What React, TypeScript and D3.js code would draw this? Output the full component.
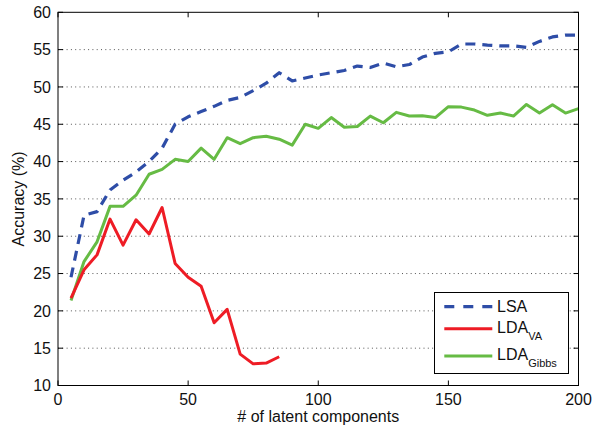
import React from "react";
import * as d3 from "d3";

const xs = d3.range(5, 201, 5);
const lsa = [24.5, 32.8, 33.3, 36.2, 37.5, 38.6, 40.0, 41.8, 45.0, 46.0, 46.7, 47.4, 48.2, 48.6, 49.5, 50.5, 51.9, 50.8, 51.2, 51.6,
  51.9, 52.2, 52.8, 52.6, 53.2, 52.7, 53.0, 54.0, 54.5, 54.7, 55.75, 55.75, 55.6, 55.5, 55.5, 55.3, 56.1, 56.7, 56.95, 56.95];
const ldaVA = [21.7, 25.5, 27.5, 32.3, 28.8, 32.2, 30.3, 33.85, 26.35, 24.5, 23.3, 18.4, 20.2, 14.2, 12.9, 13.0, 13.85];
const ldaGibbs = [21.4, 26.6, 29.25, 34.0, 34.0, 35.5, 38.3, 38.95, 40.3, 40.0, 41.8, 40.3, 43.2, 42.4, 43.2, 43.4, 43.0, 42.2, 45.0, 44.45,
  45.9, 44.6, 44.7, 46.1, 45.2, 46.6, 46.1, 46.15, 45.9, 47.35, 47.3, 46.9, 46.2, 46.5, 46.1, 47.65, 46.5, 47.6, 46.5, 47.1];
const xTicks = [0, 50, 100, 150, 200];
const yTicks = [10, 15, 20, 25, 30, 35, 40, 45, 50, 55, 60];

const W = 592, H = 430;
const L = 58, R = 578.5, T = 12.3, B = 385.5;
const FONT = "'Liberation Sans', Arial, Helvetica, sans-serif";

export default function App() {
  const x = d3.scaleLinear().domain([0, 200]).range([L, R]);
  const y = d3.scaleLinear().domain([10, 60]).range([B, T]);
  const line = d3.line<number>().x((_, i) => x(xs[i])).y((d) => y(d));
  const tick = 5;
  return (
    <svg width={W} height={H} style={{ position: "absolute", left: 0, top: 0, background: "#fff" }} fontFamily={FONT}>
      <rect x={0} y={0} width={W} height={H} fill="#fff" />
      {/* grid */}
      {yTicks.slice(1, -1).map((t) => (
        <line key={"g" + t} x1={L} x2={R} y1={y(t)} y2={y(t)} stroke="#555" strokeWidth={1} strokeDasharray="1 3.3" />
      ))}
      {/* lines */}
      <path d={line(ldaGibbs) || ""} fill="none" stroke="#66BB44" strokeWidth={3} strokeLinejoin="round" />
      <path d={line(ldaVA) || ""} fill="none" stroke="#EE1C25" strokeWidth={3} strokeLinejoin="round" />
      <path d={line(lsa) || ""} fill="none" stroke="#2E4DA7" strokeWidth={3.2} strokeDasharray="10 7" strokeLinejoin="round" />
      {/* frame */}
      <rect x={L} y={T} width={R - L} height={B - T} fill="none" stroke="#000" strokeWidth={1} />
      {/* ticks */}
      {xTicks.map((t) => (
        <g key={"xt" + t}>
          <line x1={x(t)} x2={x(t)} y1={B} y2={B - tick} stroke="#000" />
          <line x1={x(t)} x2={x(t)} y1={T} y2={T + tick} stroke="#000" />
          <text x={x(t)} y={405} textAnchor="middle" fontSize={16} fill="#111">{t}</text>
        </g>
      ))}
      {yTicks.map((t) => (
        <g key={"yt" + t}>
          <line x1={L} x2={L + tick} y1={y(t)} y2={y(t)} stroke="#000" />
          <line x1={R} x2={R - tick} y1={y(t)} y2={y(t)} stroke="#000" />
          <text x={51} y={y(t)} dy="0.36em" textAnchor="end" fontSize={16} fill="#111">{t}</text>
        </g>
      ))}
      {/* axis labels */}
      <text x={(L + R) / 2} y={422} textAnchor="middle" fontSize={16} fill="#111"># of latent components</text>
      <text transform={`translate(24,${(T + B) / 2}) rotate(-90)`} textAnchor="middle" fontSize={16} fill="#111">Accuracy (%)</text>
      {/* legend */}
      <rect x={434.5} y={292.5} width={134} height={81} fill="#fff" stroke="#000" strokeWidth={1} />
      <line x1={444.3} x2={492.3} y1={306.7} y2={306.7} stroke="#2E4DA7" strokeWidth={3.2} strokeDasharray="10 9" />
      <line x1={444.3} x2={492.3} y1={328.7} y2={328.7} stroke="#EE1C25" strokeWidth={3} />
      <line x1={444.3} x2={492.3} y1={356} y2={356} stroke="#66BB44" strokeWidth={3} />
      <text x={497} y={312} fontSize={16} fill="#111">LSA</text>
      <text x={497} y={333} fontSize={16} fill="#111">LDA<tspan fontSize={11} dy={6.5}>VA</tspan></text>
      <text x={497} y={360} fontSize={16} fill="#111">LDA<tspan fontSize={11} dy={7}>Gibbs</tspan></text>
    </svg>
  );
}
